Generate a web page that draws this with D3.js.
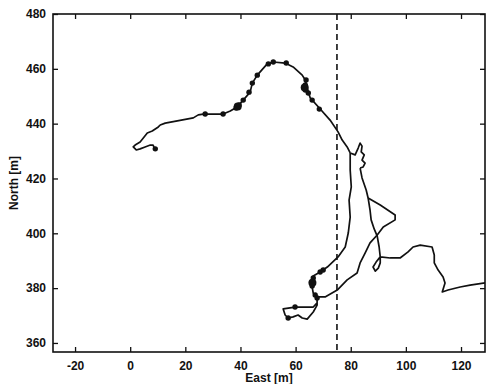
<!DOCTYPE html>
<html>
<head>
<meta charset="utf-8">
<script src="https://cdn.jsdelivr.net/npm/d3@7"></script>
<style>
  body { margin: 0; background: #fff; }
  text { font-family: "Liberation Sans", Arial, sans-serif; fill: #111; font-weight: bold; }
</style>
</head>
<body>
<div id="chart"></div>
<script>
// track pieces, [east, north] in metres
const trackNorth = [
  [9.1, 430.4], [8.3, 432.2], [7.3, 432.2], [5.4, 431.5], [3.6, 430.8], [2.2, 430.4],
  [1.1, 431.5], [1.8, 432.2], [3.6, 433.3], [6.2, 436.6], [8.0, 437.3], [10.2, 438.8],
  [10.9, 439.5], [12.7, 440.2], [17.1, 441.0], [22.9, 442.1], [24.7, 443.2], [26.5, 443.5],
  [33.7, 443.5], [36.3, 444.6], [38.8, 446.1], [41.0, 448.6], [43.5, 451.5], [44.3, 454.8],
  [46.1, 457.7], [49.7, 461.8], [51.9, 462.5], [56.2, 462.1], [59.1, 460.7], [62.4, 457.7],
  [63.5, 455.9], [64.2, 453.0], [65.3, 449.4], [68.6, 445.7], [72.5, 441.3], [75.4, 437.0],
  [76.9, 434.0], [78.7, 431.5], [79.8, 429.3]
]
const trackKnot = [
  [79.8, 429.3], [81.6, 428.6], [82.7, 431.1], [83.4, 432.9], [84.1, 431.8], [83.8, 429.7],
  [84.9, 428.6], [84.1, 426.7], [85.2, 425.6], [84.5, 424.2], [83.4, 423.8]
]
const trackEast = [
  [83.4, 423.8], [84.1, 420.2], [85.6, 415.8], [86.3, 412.9], [87.0, 408.5], [87.4, 404.9],
  [88.5, 401.6], [89.6, 399.0], [90.3, 395.0], [90.7, 391.4], [90.7, 389.2], [90.0, 387.3],
  [88.9, 386.2], [88.1, 387.7], [89.2, 389.5], [90.7, 391.4], [94.3, 391.0], [97.9, 391.0],
  [100.8, 393.2], [102.6, 395.0], [105.2, 395.7], [109.5, 395.0], [110.3, 392.1], [110.3, 389.2],
  [111.7, 386.6], [113.5, 384.1], [114.2, 381.9], [113.2, 378.6], [115.3, 379.3], [119.7, 380.4],
  [123.3, 381.1], [128.8, 381.9]
]
const trackSouth = [
  [79.8, 429.3], [79.8, 423.1], [80.2, 416.9], [79.4, 412.1], [79.8, 405.9], [79.1, 400.1],
  [78.0, 395.0], [75.4, 391.4], [71.5, 387.7], [68.9, 385.9], [66.4, 384.4], [65.6, 382.6],
  [66.0, 380.4], [66.4, 378.2], [67.8, 376.8], [67.8, 374.6], [66.4, 373.1], [61.7, 373.1],
  [59.8, 373.1], [55.5, 372.4], [56.2, 370.2], [57.3, 369.1], [59.1, 369.5], [60.9, 370.2],
  [62.4, 369.1], [64.2, 368.7], [66.4, 371.3], [67.8, 373.8], [67.8, 376.8]
]
const trackReturn = [
  [67.8, 376.8], [70.7, 376.8], [75.1, 379.3], [78.7, 383.0], [82.3, 385.5], [83.4, 389.2],
  [85.2, 392.8], [87.0, 396.5], [89.6, 399.4], [91.8, 402.3], [96.1, 404.9], [96.1, 406.7],
  [90.7, 410.3], [86.3, 412.9]
]
const fixes = [
  [27.2, 443.5], [33.7, 443.5], [38.4, 445.7], [39.5, 446.8], [41.0, 448.6], [43.1, 451.5],
  [44.3, 454.8], [46.1, 457.7], [50.1, 461.8], [51.9, 462.5], [56.6, 462.1], [63.8, 455.9],
  [63.5, 454.1], [63.5, 452.3], [64.6, 451.2], [66.0, 448.6], [68.6, 445.3],
  [68.9, 385.9], [70.0, 386.6], [66.4, 383.7], [66.0, 382.2], [66.0, 380.8], [67.1, 377.5],
  [67.8, 376.4], [59.8, 373.1], [57.3, 369.1], [9.1, 430.8]
]
// bigger blobs where fixes pile up
const blobs = [[39.0, 446.3], [63.3, 453.2], [66.1, 382.0]]
const refEast = 75
const xTicks = [-20, 0, 20, 40, 60, 80, 100, 120]
const yTicks = [360, 380, 400, 420, 440, 460, 480]

const W = 486, H = 384
const m = { top: 14, right: 1, bottom: 32, left: 53 }
const w = W - m.left - m.right
const h = H - m.top - m.bottom

const svg = d3.select('#chart').append('svg')
  .attr('width', W).attr('height', H)
const g = svg.append('g').attr('transform', `translate(${m.left},${m.top})`)

const x = d3.scaleLinear([-28, 128.7], [0, w])
const y = d3.scaleLinear([356.7, 480], [h, 0])

g.append('defs').append('clipPath').attr('id', 'clip')
  .append('rect').attr('width', w).attr('height', h)

// inward ticks on all four sides, matlab style
const tk = 5
g.append('g').attr('transform', `translate(0,${h})`)
  .call(d3.axisBottom(x).tickValues(xTicks).tickSize(-tk).tickPadding(9).tickFormat(d => d < 0 ? '-20' : d))
g.append('g')
  .call(d3.axisTop(x).tickValues(xTicks).tickSize(-tk).tickFormat(''))
g.append('g')
  .call(d3.axisLeft(y).tickValues(yTicks).tickSize(-tk).tickPadding(7))
g.append('g').attr('transform', `translate(${w},0)`)
  .call(d3.axisRight(y).tickValues(yTicks).tickSize(-tk).tickFormat(''))

g.selectAll('.domain').remove()
g.selectAll('.tick line').attr('stroke', '#111').attr('stroke-width', 1.3)
g.selectAll('.tick text').style('font-size', '12px').attr('fill', '#111')

g.append('rect')
  .attr('width', w).attr('height', h)
  .attr('fill', 'none').attr('stroke', '#111').attr('stroke-width', 1.6)

const plot = g.append('g').attr('clip-path', 'url(#clip)')

plot.append('line')
  .attr('x1', x(refEast)).attr('x2', x(refEast))
  .attr('y1', 0).attr('y2', h)
  .attr('stroke', '#111').attr('stroke-width', 1.6)
  .attr('stroke-dasharray', '6,4')

const line = d3.line().x(d => x(d[0])).y(d => y(d[1]))
const pieces = [trackNorth, trackKnot, trackEast, trackSouth, trackReturn]
plot.selectAll('path.track').data(pieces).enter().append('path')
  .attr('class', 'track')
  .attr('d', line)
  .attr('fill', 'none').attr('stroke', '#111')
  .attr('stroke-width', 1.7).attr('stroke-linejoin', 'round')

plot.selectAll('circle.fix').data(fixes).enter().append('circle')
  .attr('class', 'fix')
  .attr('cx', d => x(d[0])).attr('cy', d => y(d[1]))
  .attr('r', 2.7).attr('fill', '#111')

plot.selectAll('circle.blob').data(blobs).enter().append('circle')
  .attr('class', 'blob')
  .attr('cx', d => x(d[0])).attr('cy', d => y(d[1]))
  .attr('r', 4).attr('fill', '#111')

svg.append('text')
  .attr('x', m.left + w / 2).attr('y', 382)
  .attr('text-anchor', 'middle').style('font-size', '12px')
  .text('East [m]')
svg.append('text')
  .attr('transform', `translate(18,${m.top + h / 2}) rotate(-90)`)
  .attr('text-anchor', 'middle').style('font-size', '12px')
  .text('North [m]')
</script>
</body>
</html>
